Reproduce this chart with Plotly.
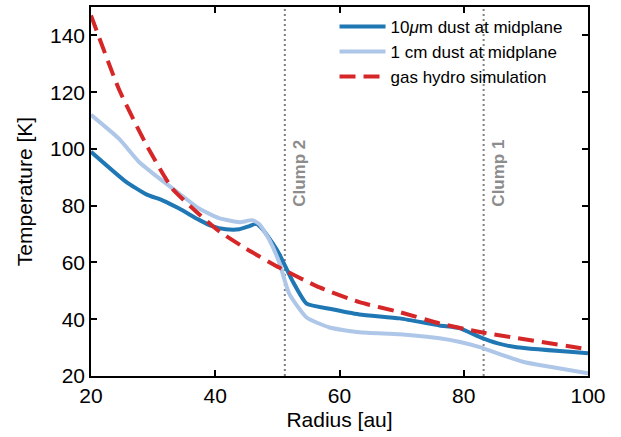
import plotly.graph_objects as go

# 10 micron dust
r_small = [20, 25.6, 28.9, 31.5, 34.2, 37.4, 39.5, 41.7, 43.9, 45.5, 46.6, 47.6, 49.2, 50.3, 52.4, 54.7, 58.4, 63.2, 69.7, 76.1, 79.4, 82.6, 85.5, 88.5, 100]
t_small = [99, 88.5, 84, 81.9, 79, 75, 72.8, 71.7, 71.7, 72.8, 73.6, 71.7, 66.9, 63, 53.6, 45.5, 43.7, 41.7, 40.3, 37.8, 36.8, 33.7, 31.5, 30.1, 28]

# 1 cm dust
r_large = [20, 24.5, 27.7, 31, 34.2, 37.4, 40.6, 43.9, 46, 47.1, 48.7, 50.3, 51.9, 54.7, 58.4, 63.2, 69.7, 76.1, 79.4, 82.6, 89.5, 100]
t_large = [112, 103.6, 95.5, 89.6, 84.3, 79, 75.6, 74.2, 74.9, 73.5, 68, 60, 49, 40.6, 37.1, 35.4, 34.7, 33.3, 32, 30.2, 25, 21]

# gas hydro
r_gas = [20, 24.5, 28.9, 33.1, 37.4, 40.6, 45, 50.3, 56.8, 63.2, 69.7, 76.1, 82.6, 100]
t_gas = [147, 121, 101.5, 86, 77, 71, 64.8, 58.2, 51.2, 46, 42.5, 38.5, 35.5, 29.4]

clump_r = [51.2, 83.2]
clump_names = ["Clump 2", "Clump 1"]

fig = go.Figure()
fig.add_trace(go.Scatter(x=r_small, y=t_small, mode="lines", name="10<i>μ</i>m dust at midplane",
                         line=dict(color="#1f77b4", width=4, shape="spline", smoothing=0.5)))
fig.add_trace(go.Scatter(x=r_large, y=t_large, mode="lines", name="1 cm dust at midplane",
                         line=dict(color="#aec7e8", width=4, shape="spline", smoothing=0.5)))
fig.add_trace(go.Scatter(x=r_gas, y=t_gas, mode="lines", name="gas hydro simulation",
                         line=dict(color="#d62728", width=4, dash="16px,8px", shape="spline", smoothing=0.5)))

for rc, nm in zip(clump_r, clump_names):
    fig.add_shape(type="line", x0=rc, x1=rc, y0=0, y1=1, xref="x", yref="paper",
                  line=dict(color="#808080", width=2, dash="2px,3px"), layer="below")
    fig.add_annotation(x=rc, y=1, xref="x", yref="paper", text="<b>" + nm + "</b>",
                       textangle=-90, showarrow=False, xanchor="left", yanchor="top",
                       xshift=3, yshift=-131,
                       font=dict(color="#8c8c8c", size=17, family="Liberation Sans, Arial"))

axis_common = dict(showgrid=False, zeroline=False, showline=True, linecolor="black", linewidth=1.5,
                   ticks="inside", ticklen=6, tickwidth=1.5, tickcolor="black", mirror="ticks",
                   tickfont=dict(size=21, color="black"))

fig.update_layout(
    width=621, height=437,
    margin=dict(l=91, r=33, t=5, b=61),
    plot_bgcolor="white", paper_bgcolor="white",
    font=dict(family="Liberation Sans, Arial, sans-serif", color="black"),
    xaxis=dict(range=[20, 100], tickvals=[20, 40, 60, 80, 100],
               title=dict(text="Radius [au]", font=dict(size=21), standoff=6), **axis_common),
    yaxis=dict(range=[20, 150], tickvals=[20, 40, 60, 80, 100, 120, 140],
               title=dict(text="Temperature [K]", font=dict(size=21), standoff=12), **axis_common),
    legend=dict(x=0.49, y=0.995, xanchor="left", yanchor="top", bgcolor="rgba(0,0,0,0)",
                font=dict(size=17), itemwidth=46, tracegroupgap=0),
)

fig.write_html("out.html", config={"displayModeBar": False},
               post_script="document.body.style.margin='0';")
